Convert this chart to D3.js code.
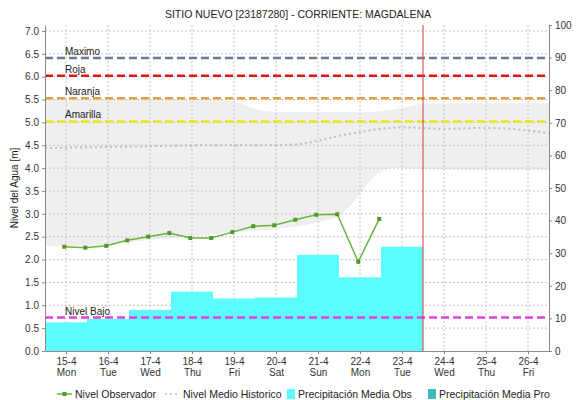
<!DOCTYPE html>
<html>
<head>
<meta charset="utf-8">
<script src="https://d3js.org/d3.v7.min.js"></script>
<style>
  body { margin: 0; background: #fff; }
  svg text { font-family: Arial, "Liberation Sans", sans-serif; fill: #222; }
  .axis path, .axis line { stroke: #8a8a8a; }
  .axis text { font-size: 10px; fill: #333; }
</style>
</head>
<body>
<div id="chart"></div>
<script>
const svgWidth = 577;
const svgHeight = 400;
const margin = {top: 25, right: 28, bottom: 49, left: 45};
const width = svgWidth - margin.left - margin.right;
const height = svgHeight - margin.top - margin.bottom;

const parseTime = d3.timeParse('%Y-%m-%d %H:%M');

// x axis categories (one per day)
const dayLabels = ['15-4', '16-4', '17-4', '18-4', '19-4', '20-4', '21-4', '22-4', '23-4', '24-4', '25-4', '26-4'];
const weekdayLabels = ['Mon', 'Tue', 'Wed', 'Thu', 'Fri', 'Sat', 'Sun', 'Mon', 'Tue', 'Wed', 'Thu', 'Fri'];
const dayStarts = ['2019-04-15', '2019-04-16', '2019-04-17', '2019-04-18', '2019-04-19', '2019-04-20',
    '2019-04-21', '2019-04-22', '2019-04-23', '2019-04-24', '2019-04-25', '2019-04-26'];
const forecastStart = '2019-04-24 00:00';

// Observed water level [m]
const obsTimes = ['2019-04-15 11:00', '2019-04-15 23:00', '2019-04-16 11:00', '2019-04-16 23:00',
    '2019-04-17 11:00', '2019-04-17 23:00', '2019-04-18 11:00', '2019-04-18 23:00',
    '2019-04-19 11:00', '2019-04-19 23:00', '2019-04-20 11:00', '2019-04-20 23:00',
    '2019-04-21 11:00', '2019-04-21 23:00', '2019-04-22 11:00', '2019-04-22 23:00'];
const obsLevels = [2.28, 2.26, 2.30, 2.42, 2.50, 2.58, 2.47, 2.47, 2.60, 2.73, 2.75, 2.87, 2.98, 2.99, 1.95, 2.89];

// Daily mean precipitation observed [mm]
const precipDays = ['2019-04-15', '2019-04-16', '2019-04-17', '2019-04-18', '2019-04-19',
    '2019-04-20', '2019-04-21', '2019-04-22', '2019-04-23'];
const precipObs = [8.8, 9.8, 12.6, 18.2, 16.1, 16.4, 29.5, 22.6, 32.0];

// Historic mean level and historic range [m]
const histTimes = ['2019-04-15 00:00', '2019-04-17 00:00', '2019-04-19 00:00', '2019-04-20 12:00',
    '2019-04-21 00:00', '2019-04-22 06:00', '2019-04-23 12:00', '2019-04-24 12:00',
    '2019-04-25 12:00', '2019-04-26 08:00', '2019-04-27 00:00'];
const histMean = [4.44, 4.47, 4.50, 4.50, 4.52, 4.75, 4.89, 4.86, 4.88, 4.84, 4.76];

const bandTimes = ['2019-04-15 00:00', '2019-04-16 00:00', '2019-04-17 00:00', '2019-04-18 00:00',
    '2019-04-19 00:00', '2019-04-19 12:00', '2019-04-20 00:00', '2019-04-20 12:00', '2019-04-21 12:00',
    '2019-04-22 00:00', '2019-04-22 07:00', '2019-04-22 22:00', '2019-04-23 07:00', '2019-04-24 00:00',
    '2019-04-25 00:00', '2019-04-27 00:00'];
const bandUpper = [5.50, 5.50, 5.50, 5.50, 5.50, 5.45, 5.30, 5.23, 5.22, 5.22, 5.22, 5.24, 5.28, 5.40, 5.42, 5.42];
const bandLower = [2.30, 2.30, 2.38, 2.47, 2.55, 2.60, 2.63, 2.67, 2.82, 2.97, 3.20, 3.88, 4.00, 3.98, 3.96, 3.96];

// Alert thresholds [m]
const thresholdNames = ['Maximo', 'Roja', 'Naranja', 'Amarilla', 'Nivel Bajo'];
const thresholdValues = [6.41, 6.02, 5.53, 5.02, 0.73];
const thresholdColors = ['#6f7894', '#e01818', '#e4a040', '#eaea10', '#e040e0'];

const levelTicks = d3.range(0, 7.01, 0.5);
const precipTicks = d3.range(0, 101, 10);

const legendNames = ['Nivel Observador', 'Nivel Medio Historico', 'Precipitación Media Obs', 'Precipitación Media Pro'];
const legendX = [57, 165, 287, 428];

const x = d3.scaleTime()
    .domain([parseTime('2019-04-15 00:00'), parseTime('2019-04-27 00:00')])
    .range([0, width]);
const y = d3.scaleLinear().domain([0, 7.13]).range([height, 0]);
const y2 = d3.scaleLinear().domain([0, 100]).range([height, 0]);

const noon = s => parseTime(s + ' 12:00');
const midnight = s => parseTime(s + ' 00:00');

const svg = d3.select('#chart').append('svg')
    .attr('width', svgWidth)
    .attr('height', svgHeight);

// Title
svg.append('text')
    .attr('x', 298).attr('y', 18)
    .attr('text-anchor', 'middle')
    .style('font-size', '10.5px')
    .text('SITIO NUEVO [23187280] - CORRIENTE: MAGDALENA');

const g = svg.append('g')
    .attr('transform', 'translate(' + margin.left + ',' + margin.top + ')');

// Historic range band
const bandData = bandTimes.map((t, i) => ({t: parseTime(t), lo: bandLower[i], hi: bandUpper[i]}));
g.append('path')
    .datum(bandData)
    .attr('fill', '#efefef')
    .attr('d', d3.area()
        .curve(d3.curveMonotoneX)
        .x(d => x(d.t))
        .y0(d => y(d.lo))
        .y1(d => y(d.hi)));

// Grid lines
g.append('g')
    .selectAll('line')
    .data(levelTicks.filter(d => d > 0))
    .join('line')
    .attr('x1', 0).attr('x2', width)
    .attr('y1', d => y(d)).attr('y2', d => y(d))
    .attr('stroke', '#c4c4c4')
    .attr('stroke-dasharray', '2,2');
g.append('g')
    .selectAll('line')
    .data(dayStarts)
    .join('line')
    .attr('x1', d => x(noon(d))).attr('x2', d => x(noon(d)))
    .attr('y1', 0).attr('y2', height)
    .attr('stroke', '#c4c4c4')
    .attr('stroke-dasharray', '2,2');

// Precipitation bars (right axis)
g.append('g')
    .selectAll('rect')
    .data(precipDays)
    .join('rect')
    .attr('x', d => x(midnight(d)))
    .attr('width', d => x(d3.timeDay.offset(midnight(d), 1)) - x(midnight(d)))
    .attr('y', (d, i) => y2(precipObs[i]))
    .attr('height', (d, i) => height - y2(precipObs[i]))
    .attr('fill', '#5cfcfc');

// Historic mean level
g.append('path')
    .datum(histTimes.map((t, i) => ({t: parseTime(t), v: histMean[i]})))
    .attr('fill', 'none')
    .attr('stroke', '#b8bccb')
    .attr('stroke-width', 2)
    .attr('stroke-dasharray', '2,3')
    .attr('d', d3.line().curve(d3.curveMonotoneX).x(d => x(d.t)).y(d => y(d.v)));

// Threshold lines with labels
thresholdValues.forEach((v, i) => {
    g.append('line')
        .attr('x1', 0).attr('x2', width)
        .attr('y1', y(v)).attr('y2', y(v))
        .attr('stroke', thresholdColors[i])
        .attr('stroke-width', 2.5)
        .attr('stroke-dasharray', '8,4');
    g.append('text')
        .attr('x', x(noon(dayStarts[0])) - 1)
        .attr('y', y(v) - 3)
        .style('font-size', '10px')
        .text(thresholdNames[i]);
});

// Observed level line
const obsData = obsTimes.map((t, i) => ({t: parseTime(t), v: obsLevels[i]}));
g.append('path')
    .datum(obsData)
    .attr('fill', 'none')
    .attr('stroke', '#6ab43c')
    .attr('stroke-width', 1.5)
    .attr('d', d3.line().x(d => x(d.t)).y(d => y(d.v)));
g.append('g')
    .selectAll('rect')
    .data(obsData)
    .join('rect')
    .attr('x', d => x(d.t) - 2)
    .attr('y', d => y(d.v) - 2)
    .attr('width', 4).attr('height', 4)
    .attr('fill', '#4f9a2a');

// Forecast start marker
g.append('line')
    .attr('x1', x(parseTime(forecastStart))).attr('x2', x(parseTime(forecastStart)))
    .attr('y1', 0).attr('y2', height)
    .attr('stroke', '#d83a3a')
    .attr('stroke-width', 1);

// Axes
g.append('g')
    .attr('class', 'axis')
    .call(d3.axisLeft(y).tickValues(levelTicks).tickSize(3).tickSizeOuter(0).tickFormat(d3.format('.1f')));

g.append('g')
    .attr('class', 'axis')
    .attr('transform', 'translate(' + width + ',0)')
    .call(d3.axisRight(y2).tickValues(precipTicks).tickSize(3).tickSizeOuter(0).tickFormat(d3.format('d')));

const xAxis = g.append('g')
    .attr('class', 'axis')
    .attr('transform', 'translate(0,' + height + ')')
    .call(d3.axisBottom(x).tickValues(dayStarts.map(noon)).tickSize(3).tickSizeOuter(0).tickFormat(''));
xAxis.selectAll('.tick').each(function (d, i) {
    const t = d3.select(this);
    t.append('text').attr('y', 14).attr('fill', '#333').text(dayLabels[i]);
    t.append('text').attr('y', 25).attr('fill', '#333').text(weekdayLabels[i]);
});

// Axis title
svg.append('text')
    .attr('transform', 'translate(18,' + (margin.top + height / 2) + ') rotate(-90)')
    .attr('text-anchor', 'middle')
    .style('font-size', '10px')
    .text('Nivel del Agua [m]');

// Legend
const legend = svg.append('g').attr('transform', 'translate(0,394)');
legendNames.forEach((name, i) => {
    const lx = legendX[i];
    let textX = lx + 18;
    if (i === 0) {
        legend.append('line').attr('x1', lx).attr('x2', lx + 15).attr('y1', 0).attr('y2', 0)
            .attr('stroke', '#6ab43c').attr('stroke-width', 1.5);
        legend.append('rect').attr('x', lx + 5.5).attr('y', -2).attr('width', 4).attr('height', 4)
            .attr('fill', '#4f9a2a');
    } else if (i === 1) {
        legend.append('line').attr('x1', lx).attr('x2', lx + 14).attr('y1', 0).attr('y2', 0)
            .attr('stroke', '#b8bccb').attr('stroke-width', 1.5).attr('stroke-dasharray', '2,3');
    } else {
        legend.append('rect').attr('x', lx).attr('y', -5).attr('width', 8).attr('height', 10)
            .attr('fill', i === 2 ? '#5cfcfc' : '#3cbcbc');
        textX = lx + 11;
    }
    legend.append('text')
        .attr('x', textX).attr('y', 4)
        .style('font-size', '10.5px')
        .text(name);
});
</script>
</body>
</html>
